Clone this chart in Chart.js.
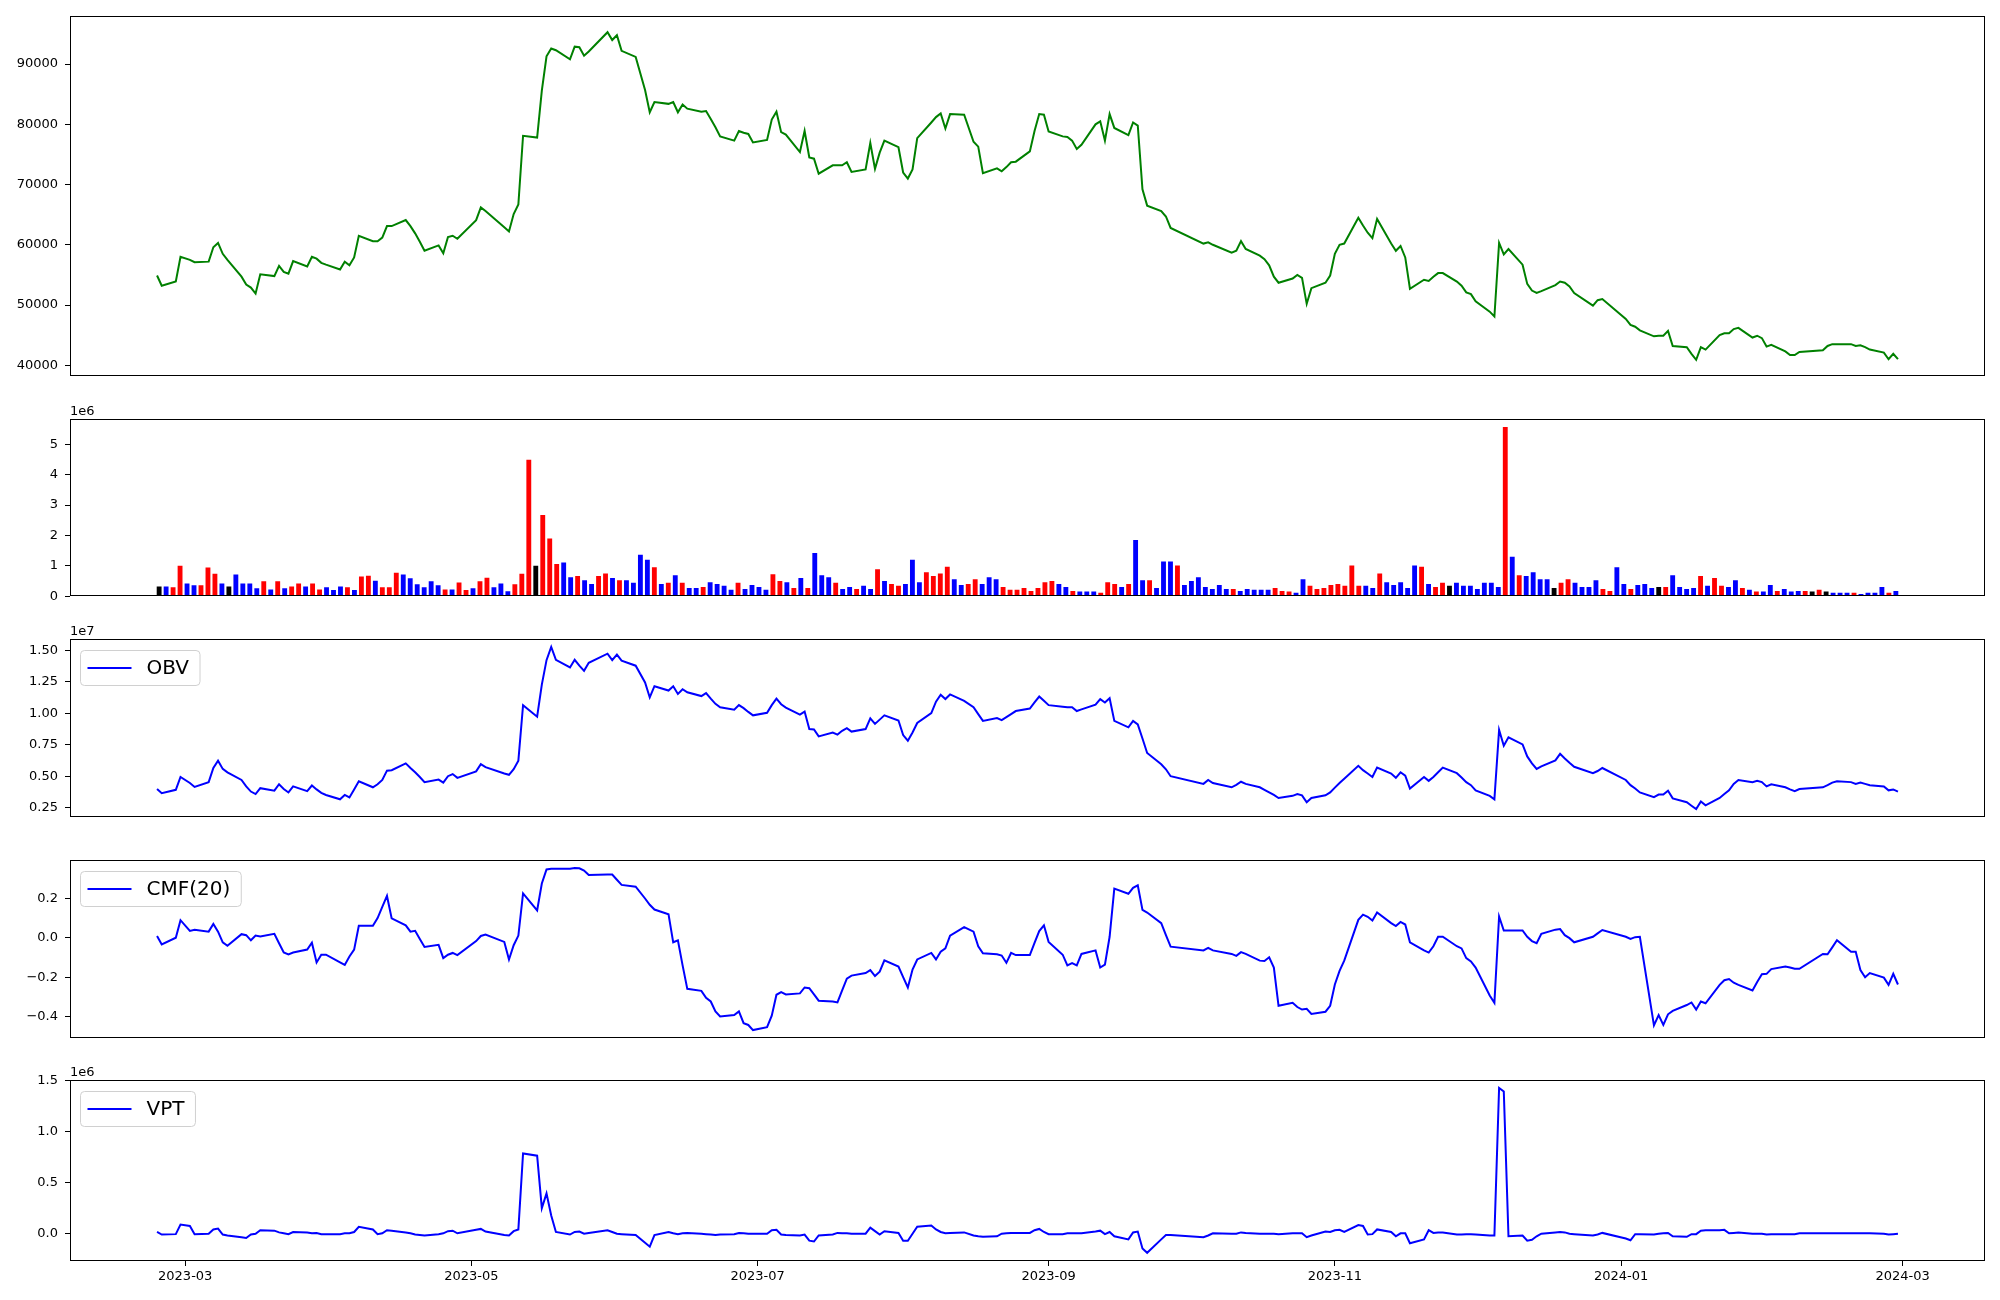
<!DOCTYPE html>
<html>
<head>
<meta charset="utf-8">
<title>Price, volume and volume indicators</title>
<script src="https://cdn.jsdelivr.net/npm/chart.js@4.4.1/dist/chart.umd.min.js"></script>
<style>
  html, body { margin: 0; padding: 0; background: #fff; }
  body { width: 2000px; height: 1300px; position: relative; overflow: hidden; }
  .panel { position: absolute; left: 0; width: 2000px; }
</style>
</head>
<body>
<script>
// ---- data (one value per trading day) ----
const firstDay = '2023-02-23';
const lastDay = '2024-02-29';
const holidays = [
  '2023-03-01', '2023-05-01', '2023-05-05', '2023-05-29', '2023-06-06', '2023-08-15',
  '2023-09-28', '2023-09-29', '2023-10-02', '2023-10-03', '2023-10-09', '2023-12-25',
  '2023-12-29', '2024-01-01', '2024-02-09', '2024-02-12',
];

// closing price
const close = [
  54900, 53200, 53900, 58000,
  57500, 57100, 57200, 59600, 60300, 58500, 57500, 54700, 53400, 52900, 51900, 55100, 54800, 56500, 55500, 55200, 57300, 56400, 58000, 57700, 57000, 56700,
  55900, 57200, 56600, 57900, 61500, 60600, 60600, 61200, 63100, 63100, 64100, 63100, 61900, 60500, 59000, 59900, 58600, 61300, 61500, 61000,
  64100, 66200, 65600, 62900, 62200, 65100, 66700, 78100, 77800, 85600, 91300, 92600, 92300, 90800, 92900, 92800, 91400, 92100, 95300, 94000,
  94800, 92200, 91200, 85700, 82000, 83700, 83400, 83700, 82000, 83300, 82600, 82100, 82200, 80900, 79500, 78000, 77300, 78900, 78600, 78400, 77000,
  77400, 80800, 82100, 78700, 78300, 75400, 78900, 74500, 74300, 71800, 73200, 73200, 73200, 73700, 72100, 72500, 76900, 72600, 75300, 77300, 76200,
  72000, 71000, 72500, 77700, 80300, 81200, 81800, 79300, 81700, 81600, 77100, 76300, 71900, 72700, 72200, 72900, 73700, 73800, 75500, 78900, 81700, 81600,
  78800, 78000, 77900, 77300, 75900, 76600, 80000, 80500, 77300, 81700, 79400, 78200, 80300, 79800, 69200, 66500, 65600, 64700, 62800,
  60200, 60400, 60000, 58700, 59000, 60600, 59300, 58200, 57600, 56600, 54700, 53700, 54400, 55000, 54500, 50200, 52800, 53700, 54900,
  58500, 60000, 60200, 64500, 63200, 62000, 61100, 64300, 60200, 59000, 59800, 57900, 52700, 54200, 54000, 54700, 55300, 55300, 53900, 53200, 52100, 51800,
  50600, 48900, 48100, 60300, 58400, 59300, 56700, 53500, 52400, 52000, 52300, 53300, 53900, 53700, 53100, 52000, 49900, 50800, 51000,
  47700, 46700, 46400, 45800, 44800, 44900, 44900, 45700, 43200, 43000, 41900, 40900, 43000, 42600, 45000, 45300, 45300, 46000, 46200, 44600, 44900, 44500,
  43100, 43400, 42300, 41700, 41700, 42200, 42500, 43200, 43500, 43500, 43500, 43200, 43300, 43000, 42600, 42100, 41000, 41900, 41000,
];

// volume, in units of 1e6
const volume = [
  0.31, 0.31, 0.28, 0.99,
  0.41, 0.35, 0.35, 0.93, 0.73, 0.41, 0.31, 0.70, 0.41, 0.41, 0.25, 0.48, 0.21, 0.48, 0.25, 0.31, 0.41, 0.31, 0.41, 0.21, 0.28, 0.19,
  0.31, 0.28, 0.19, 0.64, 0.66, 0.50, 0.28, 0.28, 0.76, 0.70, 0.58, 0.38, 0.28, 0.48, 0.35, 0.21, 0.21, 0.44, 0.19, 0.25,
  0.48, 0.60, 0.28, 0.41, 0.15, 0.38, 0.73, 4.48, 0.99, 2.66, 1.89, 1.05, 1.10, 0.61, 0.65, 0.51, 0.39, 0.65, 0.74, 0.59,
  0.51, 0.51, 0.43, 1.35, 1.19, 0.94, 0.39, 0.43, 0.68, 0.43, 0.26, 0.26, 0.29, 0.45, 0.39, 0.33, 0.20, 0.43, 0.23, 0.36, 0.29,
  0.20, 0.71, 0.49, 0.45, 0.26, 0.59, 0.26, 1.41, 0.68, 0.61, 0.43, 0.23, 0.29, 0.23, 0.33, 0.23, 0.88, 0.49, 0.39, 0.33, 0.39,
  1.19, 0.45, 0.78, 0.65, 0.74, 0.96, 0.55, 0.36, 0.39, 0.55, 0.39, 0.61, 0.55, 0.29, 0.20, 0.20, 0.26, 0.16, 0.26, 0.45, 0.49, 0.39,
  0.29, 0.16, 0.14, 0.14, 0.14, 0.10, 0.45, 0.39, 0.29, 0.39, 1.84, 0.51, 0.51, 0.26, 1.13, 1.13, 1.00, 0.36, 0.49,
  0.61, 0.29, 0.23, 0.36, 0.23, 0.23, 0.16, 0.23, 0.20, 0.20, 0.20, 0.26, 0.16, 0.14, 0.10, 0.55, 0.33, 0.23, 0.26,
  0.36, 0.39, 0.33, 1.00, 0.33, 0.33, 0.26, 0.74, 0.45, 0.36, 0.45, 0.26, 1.00, 0.96, 0.39, 0.29, 0.43, 0.33, 0.43, 0.33, 0.33, 0.23,
  0.43, 0.43, 0.29, 5.56, 1.29, 0.68, 0.65, 0.78, 0.55, 0.55, 0.26, 0.43, 0.55, 0.43, 0.29, 0.29, 0.51, 0.23, 0.16,
  0.94, 0.39, 0.23, 0.36, 0.39, 0.26, 0.29, 0.29, 0.68, 0.29, 0.23, 0.26, 0.65, 0.33, 0.59, 0.33, 0.29, 0.51, 0.26, 0.20, 0.14, 0.14,
  0.36, 0.16, 0.23, 0.14, 0.16, 0.16, 0.14, 0.20, 0.14, 0.10, 0.10, 0.10, 0.10, 0.06, 0.10, 0.10, 0.29, 0.10, 0.16,
];

// candle direction of each volume bar: 1 up, -1 down, 0 flat
const volumeDir = [
  0, -1, 1, 1,
  -1, -1, 1, 1, 1, -1, 0, -1, -1, -1, -1, 1, -1, 1, -1, 1, 1, -1, 1, 1, -1, -1,
  -1, 1, -1, 1, 1, -1, 1, 1, 1, -1, -1, -1, -1, -1, -1, 1, -1, 1, 1, -1,
  1, 1, -1, -1, -1, 1, 1, 1, 0, 1, 1, 1, -1, -1, 1, -1, -1, 1, 1, -1,
  1, -1, -1, -1, -1, 1, -1, 1, -1, 1, -1, -1, 1, -1, -1, -1, -1, 1, -1, -1, -1,
  -1, 1, 1, -1, 1, -1, 1, -1, -1, -1, 1, -1, -1, 1, -1, -1, 1, -1, 1, 1, -1,
  -1, -1, 1, 1, 1, 1, -1, -1, 1, 1, -1, -1, -1, 1, 1, 1, 1, 1, 1, 1, 1, -1,
  -1, 1, -1, -1, -1, 1, 1, 1, -1, 1, -1, -1, 1, -1, -1, -1, 1, -1, -1,
  -1, -1, -1, -1, -1, 1, -1, -1, -1, -1, -1, 1, 1, 1, -1, -1, 1, 1, 1,
  1, 1, 1, 1, 1, -1, -1, 1, -1, -1, -1, -1, -1, 1, -1, 1, 1, 0, -1, -1, -1, -1,
  -1, -1, -1, 1, -1, 1, -1, -1, -1, -1, 0, 1, 1, -1, -1, -1, -1, 1, 1,
  -1, -1, 1, -1, -1, -1, 0, 1, -1, -1, -1, -1, 1, -1, 1, 1, -1, -1, 1, -1, 1, -1,
  -1, 1, -1, -1, -1, 1, 0, 1, 0, -1, -1, -1, 1, -1, -1, -1, -1, 1, -1,
];

// on-balance volume, in units of 1e7
const obv = [
  0.400, 0.366, 0.393, 0.495,
  0.447, 0.416, 0.454, 0.566, 0.624, 0.559, 0.532, 0.471, 0.420, 0.379, 0.359, 0.406, 0.386, 0.437, 0.400, 0.372, 0.420, 0.382, 0.427, 0.396, 0.369, 0.352,
  0.318, 0.352, 0.332, 0.396, 0.461, 0.413, 0.437, 0.471, 0.545, 0.549, 0.603, 0.566, 0.532, 0.495, 0.454, 0.474, 0.450, 0.501, 0.518, 0.488,
  0.539, 0.596, 0.573, 0.522, 0.512, 0.556, 0.624, 1.065, 0.973, 1.228, 1.422, 1.527, 1.425, 1.364, 1.425, 1.378, 1.337, 1.401, 1.473, 1.422,
  1.466, 1.418, 1.378, 1.245, 1.126, 1.215, 1.181, 1.215, 1.154, 1.191, 1.167, 1.137, 1.160, 1.116, 1.075, 1.048, 1.028, 1.065, 1.041, 1.011, 0.984,
  1.004, 1.065, 1.116, 1.072, 1.045, 0.990, 1.014, 0.875, 0.872, 0.817, 0.848, 0.831, 0.861, 0.882, 0.855, 0.875, 0.960, 0.916, 0.950, 0.984, 0.943,
  0.827, 0.783, 0.848, 0.923, 1.001, 1.092, 1.147, 1.113, 1.150, 1.099, 1.048, 0.994, 0.940, 0.963, 0.946, 0.970, 0.994, 1.018, 1.038, 1.086, 1.133, 1.099,
  1.065, 1.052, 1.048, 1.048, 1.018, 1.031, 1.069, 1.113, 1.086, 1.120, 0.940, 0.889, 0.940, 0.912, 0.800, 0.685, 0.596, 0.556, 0.501,
  0.440, 0.471, 0.447, 0.413, 0.433, 0.457, 0.440, 0.413, 0.393, 0.372, 0.352, 0.328, 0.345, 0.359, 0.349, 0.294, 0.328, 0.349, 0.372,
  0.410, 0.447, 0.481, 0.583, 0.549, 0.522, 0.495, 0.569, 0.522, 0.488, 0.532, 0.505, 0.403, 0.495, 0.464, 0.495, 0.532, 0.569, 0.525, 0.491, 0.454, 0.430,
  0.389, 0.345, 0.318, 0.868, 0.743, 0.810, 0.753, 0.658, 0.603, 0.559, 0.579, 0.627, 0.678, 0.641, 0.607, 0.576, 0.525, 0.542, 0.566,
  0.471, 0.430, 0.403, 0.372, 0.335, 0.355, 0.355, 0.386, 0.325, 0.294, 0.267, 0.240, 0.301, 0.270, 0.328, 0.359, 0.389, 0.440, 0.471, 0.454, 0.464, 0.454,
  0.420, 0.437, 0.413, 0.396, 0.382, 0.399, 0.413, 0.430, 0.450, 0.461, 0.454, 0.440, 0.450, 0.440, 0.430, 0.420, 0.389, 0.396, 0.379,
];

// Chaikin money flow, 20 days
const cmf = [
  0.010, -0.033, 0.001, 0.090,
  0.036, 0.042, 0.032, 0.071, 0.032, -0.022, -0.040, 0.019, 0.014, -0.012, 0.012, 0.008, 0.021, -0.027, -0.074, -0.083, -0.074, -0.059, -0.024, -0.124, -0.085, -0.085,
  -0.124, -0.137, -0.094, -0.059, 0.062, 0.062, 0.101, 0.157, 0.213, 0.099, 0.064, 0.032, 0.036, -0.005, -0.046, -0.035, -0.102, -0.085, -0.076, -0.087,
  -0.016, 0.010, 0.017, -0.020, -0.109, -0.037, 0.012, 0.226, 0.140, 0.276, 0.347, 0.351, 0.351, 0.351, 0.355, 0.353, 0.342, 0.319, 0.321, 0.321,
  0.295, 0.269, 0.260, 0.200, 0.168, 0.144, 0.120, -0.022, -0.012, -0.139, -0.258, -0.268, -0.303, -0.322, -0.372, -0.398, -0.391, -0.372, -0.432, -0.441, -0.467,
  -0.452, -0.394, -0.288, -0.275, -0.286, -0.281, -0.251, -0.255, -0.286, -0.318, -0.322, -0.327, -0.266, -0.206, -0.191, -0.178, -0.163, -0.193, -0.171, -0.113, -0.145,
  -0.199, -0.251, -0.160, -0.109, -0.076, -0.109, -0.070, -0.053, 0.012, 0.055, 0.032, -0.042, -0.078, -0.083, -0.089, -0.126, -0.076, -0.087, -0.087, -0.025, 0.035, 0.064,
  -0.020, -0.085, -0.139, -0.128, -0.139, -0.081, -0.063, -0.150, -0.135, 0.006, 0.250, 0.224, 0.254, 0.267, 0.142, 0.129, 0.075, 0.014, -0.044,
  -0.063, -0.050, -0.063, -0.081, -0.091, -0.072, -0.081, -0.115, -0.117, -0.098, -0.150, -0.344, -0.329, -0.350, -0.363, -0.359, -0.385, -0.374, -0.344,
  -0.236, -0.167, -0.115, 0.092, 0.118, 0.107, 0.088, 0.129, 0.075, 0.060, 0.081, 0.068, -0.022, -0.063, -0.074, -0.042, 0.006, 0.006, -0.042, -0.053, -0.102, -0.119,
  -0.150, -0.292, -0.329, 0.109, 0.038, 0.038, 0.038, 0.006, -0.016, -0.027, 0.021, 0.042, 0.045, 0.014, -0.001, -0.022, 0.006, 0.023, 0.040,
  0.006, -0.005, 0.004, 0.006, -0.443, -0.391, -0.441, -0.387, -0.370, -0.340, -0.327, -0.363, -0.322, -0.331, -0.238, -0.214, -0.208, -0.227, -0.238, -0.266, -0.223, -0.184,
  -0.182, -0.158, -0.145, -0.150, -0.156, -0.156, -0.081, -0.083, -0.048, -0.012, -0.070, -0.070, -0.163, -0.199, -0.178, -0.201, -0.238, -0.182, -0.236,
];

// volume price trend, in units of 1e6
const vpt = [
  0.017, -0.008, -0.004, 0.089,
  0.076, -0.004, 0.000, 0.042, 0.051, -0.008, -0.017, -0.034, -0.042, -0.008, 0.000, 0.034, 0.030, 0.013, 0.004, -0.004, 0.017, 0.013, 0.004, 0.008, -0.004, -0.004,
  -0.004, 0.004, 0.004, 0.017, 0.068, 0.042, -0.004, 0.004, 0.034, 0.030, 0.013, 0.004, -0.008, -0.013, -0.017, -0.004, 0.004, 0.025, 0.030, 0.004,
  0.038, 0.047, 0.021, -0.013, -0.017, 0.025, 0.042, 0.784, 0.763, 0.250, 0.394, 0.178, 0.017, -0.008, 0.017, 0.021, 0.000, 0.008, 0.034, 0.017,
  0.000, -0.004, -0.013, -0.089, -0.127, -0.013, 0.017, 0.004, -0.004, 0.004, 0.008, 0.000, -0.004, -0.008, -0.013, -0.008, -0.004, 0.008, 0.004, 0.000, 0.000,
  0.000, 0.034, 0.038, -0.008, -0.013, -0.017, -0.008, -0.068, -0.076, -0.017, -0.008, 0.008, 0.004, 0.004, 0.000, 0.000, 0.059, 0.025, -0.008, 0.025, 0.008,
  -0.068, -0.068, 0.000, 0.068, 0.081, 0.042, 0.017, 0.004, 0.008, 0.013, -0.017, -0.025, -0.030, -0.025, 0.000, 0.004, 0.008, 0.008, 0.008, 0.034, 0.047, 0.017,
  -0.004, -0.004, 0.004, 0.004, 0.004, 0.004, 0.021, 0.030, -0.004, 0.017, -0.025, -0.055, 0.013, 0.021, -0.144, -0.186, -0.055, -0.013, -0.013,
  -0.034, -0.017, 0.004, 0.000, 0.000, 0.013, 0.008, 0.000, 0.000, 0.000, 0.000, -0.004, 0.004, 0.004, 0.004, -0.034, -0.017, 0.021, 0.017,
  0.034, 0.038, 0.017, 0.085, 0.076, -0.008, -0.004, 0.042, 0.017, -0.025, 0.004, 0.004, -0.093, -0.055, 0.034, 0.008, 0.013, 0.013, -0.008, -0.008, -0.004, -0.004,
  -0.008, -0.017, -0.017, 1.424, 1.390, -0.025, -0.017, -0.068, -0.059, -0.025, 0.000, 0.013, 0.017, 0.013, 0.000, -0.004, -0.017, -0.008, 0.008,
  -0.047, -0.064, -0.004, -0.004, -0.008, 0.000, 0.004, 0.008, -0.025, -0.030, -0.004, -0.004, 0.030, 0.034, 0.034, 0.038, 0.004, 0.008, 0.013, 0.000, 0.000, 0.000,
  -0.008, -0.004, -0.004, -0.004, -0.004, 0.004, 0.004, 0.004, 0.004, 0.004, 0.004, 0.004, 0.004, 0.004, 0.004, 0.000, -0.008, -0.004, 0.000,
];

const monthTicks = ['2023-03-01', '2023-05-01', '2023-07-01', '2023-09-01', '2023-11-01', '2024-01-01', '2024-03-01'];
const monthTickLabels = ['2023-03', '2023-05', '2023-07', '2023-09', '2023-11', '2024-01', '2024-03'];

// ---- layout ----
const FONT = "'DejaVu Sans', sans-serif";
const DAY = 86400000;
const ORIGIN = Date.parse('2023-03-01');
const PLOT_LEFT = 70;
const PLOT_RIGHT = 1985;
const PAD_TOP = 14;
const PAD_BOTTOM = 12;
const XAXIS_HEIGHT = 30;

const UP_COLOR = '#ff0000';
const DOWN_COLOR = '#0000ff';
const FLAT_COLOR = '#000000';

function dayNumber(iso) {
  return (Date.parse(iso) - ORIGIN) / DAY;
}

function tradingDays() {
  const skip = new Set(holidays);
  const out = [];
  for (let t = Date.parse(firstDay); t <= Date.parse(lastDay); t += DAY) {
    const d = new Date(t);
    const wd = d.getUTCDay();
    const iso = d.toISOString().slice(0, 10);
    if (wd !== 0 && wd !== 6 && !skip.has(iso)) out.push(iso);
  }
  return out;
}

function paddedRange(values, margin = 0.05) {
  const lo = Math.min(...values);
  const hi = Math.max(...values);
  const m = (hi - lo) * margin;
  return { min: lo - m, max: hi + m };
}

function signed(v, digits) {
  const s = Math.abs(v).toFixed(digits);
  return (v < -1e-9 ? '\u2212' : '') + s;
}

// frame around the plot, the "1eN" offset text and a boxed legend
const panelDecor = {
  id: 'panelDecor',
  afterDraw(chart, args, opts) {
    const { ctx, chartArea: a } = chart;
    ctx.save();
    ctx.strokeStyle = '#000';
    ctx.lineWidth = 1;
    ctx.strokeRect(Math.round(a.left) + 0.5, Math.round(a.top) + 0.5,
      Math.round(a.right - a.left) - 1, Math.round(a.bottom - a.top) - 1);

    if (opts.offsetText) {
      ctx.fillStyle = '#000';
      ctx.font = `13px ${FONT}`;
      ctx.textAlign = 'left';
      ctx.textBaseline = 'alphabetic';
      ctx.fillText(opts.offsetText, a.left, a.top - 4);
    }

    if (opts.legend) {
      ctx.font = `20px ${FONT}`;
      const tw = ctx.measureText(opts.legend).width;
      const x = Math.round(a.left) + 10.5;
      const y = Math.round(a.top) + 11.5;
      const w = 66 + tw + 11;
      const h = 35;
      ctx.beginPath();
      if (ctx.roundRect) ctx.roundRect(x, y, w, h, 4);
      else ctx.rect(x, y, w, h);
      ctx.fillStyle = 'rgba(255,255,255,0.8)';
      ctx.fill();
      ctx.strokeStyle = '#d0d0d0';
      ctx.lineWidth = 1;
      ctx.stroke();

      ctx.beginPath();
      ctx.moveTo(x + 7, y + h / 2);
      ctx.lineTo(x + 51, y + h / 2);
      ctx.strokeStyle = opts.legendColor;
      ctx.lineWidth = 2;
      ctx.stroke();

      ctx.fillStyle = '#000';
      ctx.textAlign = 'left';
      ctx.textBaseline = 'middle';
      ctx.fillText(opts.legend, x + 66, y + h / 2 + 1);
    }
    ctx.restore();
  },
};
Chart.register(panelDecor);

function addPanel(id, top, bottom, withXAxis) {
  const div = document.createElement('div');
  div.className = 'panel';
  div.style.top = (top - PAD_TOP) + 'px';
  div.style.height = (bottom - top + PAD_TOP + PAD_BOTTOM + (withXAxis ? XAXIS_HEIGHT : 0)) + 'px';
  const canvas = document.createElement('canvas');
  canvas.id = id;
  div.appendChild(canvas);
  document.body.appendChild(div);
  return canvas;
}

// ticks on every multiple of step inside the axis range
function stepTicks(min, max, step) {
  const ticks = [];
  for (let k = Math.ceil(min / step - 1e-9); k * step <= max + 1e-9; k++) {
    ticks.push({ value: Math.round(k * step * 1e6) / 1e6 });
  }
  return ticks;
}

function yScale(range, step, format) {
  return {
    min: range.min,
    max: range.max,
    afterBuildTicks: (s) => { s.ticks = stepTicks(range.min, range.max, step); },
    afterFit: (s) => { s.width = PLOT_LEFT; },
    border: { display: false },
    grid: { drawOnChartArea: false, drawTicks: true, tickLength: 5, tickColor: '#000', tickWidth: 1 },
    ticks: {
      autoSkip: false,
      padding: 7,
      color: '#000',
      font: { family: FONT, size: 13 },
      callback: format,
    },
  };
}

function hiddenX(range) {
  return { type: 'linear', display: false, min: range.min, max: range.max, offset: false };
}

function baseOptions(scales, decor) {
  return {
    responsive: true,
    maintainAspectRatio: false,
    animation: false,
    layout: { padding: { top: PAD_TOP, bottom: PAD_BOTTOM, left: 0, right: 2000 - PLOT_RIGHT } },
    plugins: { legend: { display: false }, tooltip: { enabled: false }, panelDecor: decor },
    scales,
  };
}

function lineChart(canvas, points, color, scales, decor) {
  return new Chart(canvas.getContext('2d'), {
    type: 'line',
    data: {
      datasets: [{
        data: points,
        borderColor: color,
        borderWidth: 2,
        pointRadius: 0,
        tension: 0,
        fill: false,
      }],
    },
    options: baseOptions(scales, decor),
  });
}

// ---- build ----
const days = tradingDays();
const dayX = days.map(dayNumber);
const dateRange = paddedRange([dayX[0], dayX[dayX.length - 1]]);
const toPoints = (values) => values.map((v, i) => ({ x: dayX[i], y: v }));

// price
lineChart(addPanel('price', 15, 379, false), toPoints(close), '#008000', {
  x: hiddenX(dateRange),
  y: yScale(paddedRange(close), 10000, (v) => String(v)),
}, {});

// volume bars (drawn by bar index)
const barSpan = volume.length - 1 + 0.6;
const barRange = { min: -0.3 - 0.05 * barSpan, max: volume.length - 1 + 0.3 + 0.05 * barSpan };
new Chart(addPanel('volume', 418, 599, false).getContext('2d'), {
  type: 'bar',
  data: {
    datasets: [{
      data: volume.map((v, i) => ({ x: i, y: v })),
      backgroundColor: volumeDir.map((d) => (d > 0 ? UP_COLOR : d < 0 ? DOWN_COLOR : FLAT_COLOR)),
      borderWidth: 0,
      barThickness: 4.2,
      grouped: false,
    }],
  },
  options: baseOptions({
    x: hiddenX(barRange),
    y: yScale({ min: 0, max: Math.max(...volume) * 1.05 }, 1, (v) => String(v)),
  }, { offsetText: '1e6' }),
});

// OBV
lineChart(addPanel('obv', 638, 820, false), toPoints(obv), '#0000ff', {
  x: hiddenX(dateRange),
  y: yScale(paddedRange(obv), 0.25, (v) => v.toFixed(2)),
}, { offsetText: '1e7', legend: 'OBV', legendColor: '#0000ff' });

// CMF(20)
lineChart(addPanel('cmf', 859, 1041, false), toPoints(cmf), '#0000ff', {
  x: hiddenX(dateRange),
  y: yScale(paddedRange(cmf), 0.2, (v) => signed(v, 1)),
}, { legend: 'CMF(20)', legendColor: '#0000ff' });

// VPT with the date axis
const tickValues = monthTicks.map(dayNumber);
lineChart(addPanel('vpt', 1079, 1261, true), toPoints(vpt), '#0000ff', {
  x: {
    type: 'linear',
    min: dateRange.min,
    max: dateRange.max,
    offset: false,
    afterBuildTicks: (s) => { s.ticks = tickValues.map((v) => ({ value: v })); },
    afterFit: (s) => { s.height = XAXIS_HEIGHT; },
    border: { display: false },
    grid: { drawOnChartArea: false, drawTicks: true, tickLength: 5, tickColor: '#000', tickWidth: 1 },
    ticks: {
      autoSkip: false,
      maxRotation: 0,
      padding: 3,
      color: '#000',
      font: { family: FONT, size: 13 },
      callback: (v) => monthTickLabels[tickValues.indexOf(v)],
    },
  },
  y: yScale(paddedRange(vpt), 0.5, (v) => signed(v, 1)),
}, { offsetText: '1e6', legend: 'VPT', legendColor: '#0000ff' });
</script>
</body>
</html>
